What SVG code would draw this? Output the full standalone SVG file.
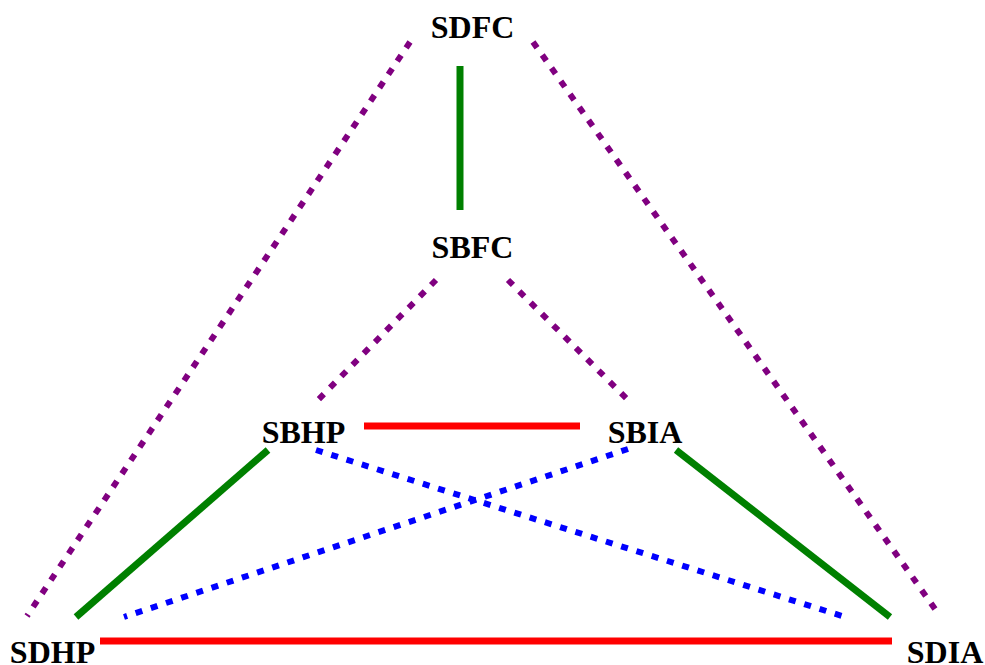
<svg xmlns="http://www.w3.org/2000/svg" width="985" height="665" viewBox="0 0 985 665">
<style>
.lbl{font-family:"Liberation Serif","Times New Roman",serif;font-weight:bold;font-size:32px;fill:#000;text-anchor:middle}
.solid{stroke-width:7;fill:none}
.dot{stroke-width:6;fill:none;stroke-dasharray:7 9}
.g{stroke:#008000}.r{stroke:#ff0000}.p{stroke:#800080}.b{stroke:#0000ff}
</style>
<rect width="985" height="665" fill="#fff"/>
<g id="connectors">
<line class="solid g" x1="460" y1="66" x2="460" y2="210"/>
<line class="dot p" x1="410" y1="42" x2="27" y2="616"/>
<line class="dot p" x1="533" y1="42" x2="940" y2="616"/>
<line class="dot p" x1="436" y1="280" x2="316" y2="402"/>
<line class="dot p" x1="508" y1="280" x2="628" y2="400"/>
<line class="solid r" x1="364" y1="426" x2="580" y2="426"/>
<line class="solid g" x1="268" y1="450" x2="76" y2="617"/>
<line class="solid g" x1="676" y1="450" x2="890" y2="617"/>
<line class="dot b" x1="316" y1="450" x2="842" y2="616"/>
<line class="dot b" x1="628" y1="449" x2="124" y2="617"/>
<line class="solid r" x1="100" y1="641" x2="892" y2="641"/>
</g>
<g id="SDFC"><text class="lbl" x="472.5" y="38">SDFC</text></g>
<g id="SBFC"><text class="lbl" x="472.5" y="258">SBFC</text></g>
<g id="SBHP"><text class="lbl" x="303.5" y="443">SBHP</text></g>
<g id="SBIA"><text class="lbl" x="645" y="443">SBIA</text></g>
<g id="SDHP"><text class="lbl" x="52.5" y="663">SDHP</text></g>
<g id="SDIA"><text class="lbl" x="945" y="663">SDIA</text></g>
</svg>
